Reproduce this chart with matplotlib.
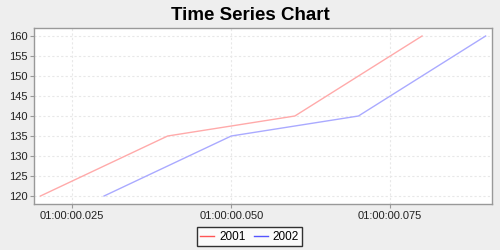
import matplotlib
matplotlib.use("Agg")
import matplotlib.pyplot as plt
from matplotlib.lines import Line2D
from matplotlib.ticker import FuncFormatter, FixedLocator

plt.rcParams['font.family'] = ['Liberation Sans', 'DejaVu Sans']

# time in milliseconds after 01:00:00
t2001 = [20, 40, 60, 80]
v2001 = [120, 135, 140, 160]
t2002 = [30, 50, 70, 90]
v2002 = [120, 135, 140, 160]
series_names = ["2001", "2002"]
x_ticks_ms = [25, 50, 75]
y_ticks = [120, 125, 130, 135, 140, 145, 150, 155, 160]

fig = plt.figure(figsize=(5, 2.5), dpi=100, facecolor='#EEEEEE')
ax = fig.add_axes([34.3/500, 1 - 204/250, (492-34.3)/500, (204-28)/250])
ax.set_facecolor('white')

ax.plot(t2001, v2001, color='#FFAAAA', lw=1.0)
ax.plot(t2002, v2002, color='#AAAAFF', lw=1.0)

ax.set_xlim(19.03, 91.0)
ax.set_ylim(118, 162)
ax.xaxis.set_major_locator(FixedLocator(x_ticks_ms))
ax.xaxis.set_major_formatter(FuncFormatter(lambda x, p: "01:00:00.%03d" % int(round(x))))
ax.yaxis.set_major_locator(FixedLocator(y_ticks))
ax.grid(True, color='#E8E8E8', linestyle=(0, (2, 2)), lw=0.8)
for s in ax.spines.values():
    s.set_color('#999999')
    s.set_linewidth(1.0)
ax.tick_params(axis='both', labelsize=8, colors='#999999', labelcolor='#333333',
               length=3, width=0.8, direction='out', pad=2)
for lab in ax.get_xticklabels() + ax.get_yticklabels():
    lab.set_color('#222222')

fig.text(0.5, 1 - 15/250, "Time Series Chart", ha='center', va='center',
         fontsize=13.5, fontweight='bold', color='black')

handles = [Line2D([], [], color='#FF5555', lw=1.0), Line2D([], [], color='#5555FF', lw=1.0)]
leg = fig.legend(handles, series_names, loc='center', bbox_to_anchor=(249.5/500, 1 - 236.5/250),
                 ncol=2, fontsize=8.5, frameon=True, fancybox=False, handlelength=1.2,
                 handletextpad=0.4, columnspacing=0.7, borderpad=0.3, borderaxespad=0,
                 handleheight=0.6)
leg.get_frame().set_edgecolor('black')
leg.get_frame().set_linewidth(1.0)
leg.get_frame().set_facecolor('white')

fig.savefig("out.png", dpi=100, facecolor=fig.get_facecolor())
